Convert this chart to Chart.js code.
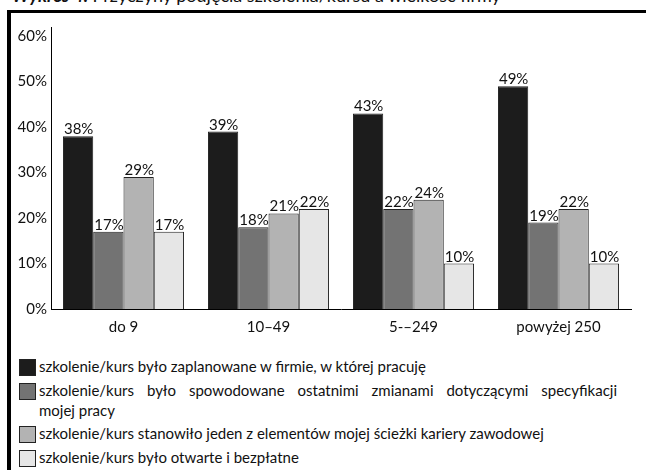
<!DOCTYPE html>
<html lang="pl">
<head>
<meta charset="utf-8">
<script src="https://cdn.jsdelivr.net/npm/chart.js@4/dist/chart.umd.min.js"></script>
<style>
  html, body { margin: 0; padding: 0; background: #fff; }
  body { width: 646px; height: 470px; position: relative; overflow: hidden; font-family: Lato, "Liberation Sans", sans-serif; color: #111; }
  .title { position: absolute; left: 12px; top: -14px; font-size: 18px; line-height: 18px; white-space: nowrap; }
  .title b { font-style: italic; }
  .frame { position: absolute; left: 7px; top: 10px; width: 700px; height: 500px; border-left: 4px solid #000; border-top: 3px solid #000; }
  #chartBox { position: absolute; left: 0; top: 0; width: 646px; height: 342px; }
  .legend { position: absolute; left: 19px; top: 0; width: 600px; font-size: 15px; }
  .item { position: absolute; left: 0; width: 600px; }
  .item .sq { position: absolute; left: 0; top: 0; width: 15px; height: 15px; border: 1px solid #222; }
  .item .txt { position: absolute; left: 20px; top: -3px; width: 578px; line-height: 20px; }
  .just { text-align: justify; text-align-last: justify; }
</style>
</head>
<body>
<div class="title"><b>Wykres 4.</b> Przyczyny podjęcia szkolenia/kursu a wielkość firmy</div>
<div class="frame"></div>
<div id="chartBox"><canvas id="chart"></canvas></div>
<div class="legend" id="legend"></div>

<script>
// kategorie (wielkosc firmy) i wartosci w %
const categories = ['do 9', '10–49', '5-–249', 'powyżej 250'];

const seriesNames = [
    'szkolenie/kurs było zaplanowane w firmie, w której pracuję',
    'szkolenie/kurs było spowodowane ostatnimi zmianami dotyczącymi specyfikacji|mojej pracy',
    'szkolenie/kurs stanowiło jeden z elementów mojej ścieżki kariery zawodowej',
    'szkolenie/kurs było otwarte i bezpłatne'
];

const planned   = [38, 39, 43, 49];
const changes   = [17, 18, 22, 19];
const career    = [29, 21, 24, 22];
const openFree  = [17, 22, 10, 10];

const yTicks = [0, 10, 20, 30, 40, 50, 60];

let colors = ['#1c1c1c', '#737373', '#b3b3b3', '#e6e6e6'];
let legendTops = [359, 383, 426, 450];

const FONT = 'Lato';

const buildDatasets = () => {
    let values = [planned, changes, career, openFree],
        sets = [];
    for (let i = 0; i < values.length; i++) {
        sets.push({
            label: seriesNames[i].replace('|', ' '),
            data: values[i],
            backgroundColor: colors[i],
            borderColor: '#222',
            borderWidth: 1,
            categoryPercentage: 0.835,
            barPercentage: 1.0
        });
    }
    return sets;
}

// etykiety nad slupkami
const valueLabels = {
    id: 'valueLabels',
    afterDatasetsDraw(chart) {
        let ctx = chart.ctx;
        ctx.save();
        ctx.font = `15px ${FONT}`;
        ctx.fillStyle = '#111';
        ctx.textAlign = 'left';
        ctx.textBaseline = 'alphabetic';
        chart.data.datasets.forEach((ds, i) => {
            let meta = chart.getDatasetMeta(i);
            meta.data.forEach((bar, j) => {
                let left = bar.x - bar.width / 2;
                ctx.fillText(ds.data[j] + '%', left + 1, bar.y - 2);
            });
        });
        ctx.restore();
    }
}

const createLegend = () => {
    let $legend = document.querySelector('#legend');
    seriesNames.forEach((name, i) => {
        let $item = document.createElement('div'),
            $sq = document.createElement('div'),
            $txt = document.createElement('div');
        $item.className = 'item';
        $item.style.top = legendTops[i] + 'px';
        $sq.className = 'sq';
        $sq.style.background = colors[i];
        $txt.className = 'txt';
        let parts = name.split('|');
        if (parts.length > 1) {
            let $l1 = document.createElement('div'),
                $l2 = document.createElement('div');
            $l1.className = 'just';
            $l1.textContent = parts[0];
            $l2.textContent = parts[1];
            $txt.appendChild($l1);
            $txt.appendChild($l2);
        } else {
            $txt.textContent = name;
        }
        $item.appendChild($sq);
        $item.appendChild($txt);
        $legend.appendChild($item);
    });
}

document.addEventListener('DOMContentLoaded', () => {
    createLegend();

    new Chart(document.querySelector('#chart').getContext('2d'), {
        type: 'bar',
        data: {
            labels: categories,
            datasets: buildDatasets()
        },
        options: {
            responsive: true,
            maintainAspectRatio: false,
            animation: false,
            layout: { padding: { left: 0, right: 15, top: 27, bottom: 0 } },
            plugins: {
                legend: { display: false },
                tooltip: { enabled: false }
            },
            scales: {
                x: {
                    grid: { display: false, drawTicks: false },
                    border: { display: true, color: '#000', width: 1 },
                    ticks: { color: '#111', font: { family: FONT, size: 15 }, padding: 9 },
                    afterFit: (scale) => { scale.height = 33; }
                },
                y: {
                    min: 0,
                    max: 62,
                    grid: { display: false, drawTicks: false },
                    border: { display: true, color: '#000', width: 1 },
                    ticks: {
                        stepSize: 10,
                        color: '#111',
                        padding: 4,
                        font: { family: FONT, size: 15 },
                        callback: (v) => v + '%'
                    },
                    afterBuildTicks: (scale) => {
                        scale.ticks = yTicks.map(v => ({ value: v }));
                    },
                    afterFit: (scale) => { scale.width = 51; }
                }
            }
        },
        plugins: [valueLabels]
    });
});
</script>
</body>
</html>
